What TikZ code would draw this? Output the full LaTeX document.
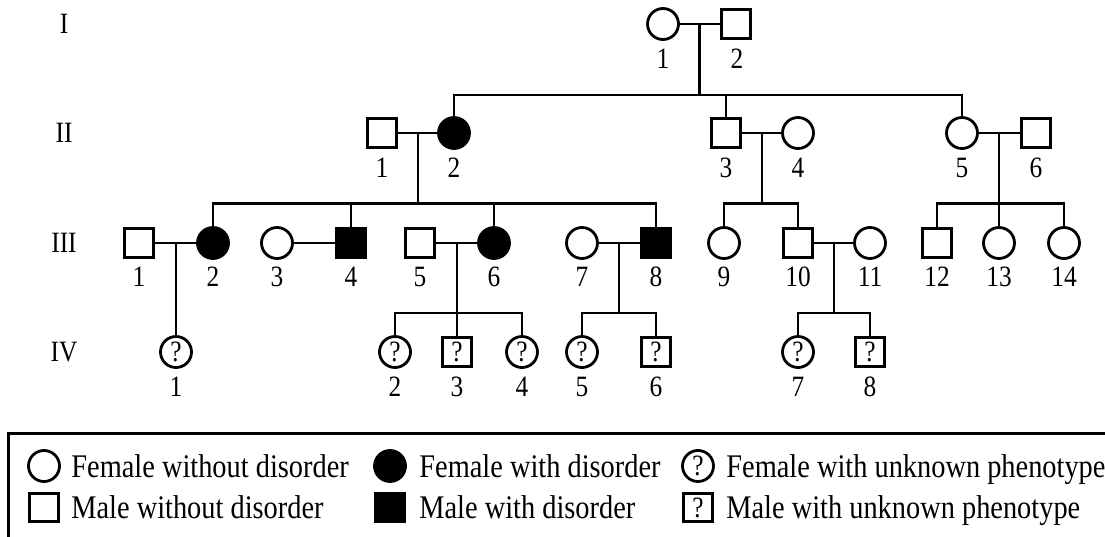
\documentclass[tikz,border=0pt]{standalone}
\usepackage{fontspec}
\setmainfont{Liberation Serif}[FakeStretch=0.86]
\usetikzlibrary{calc}
\newcommand\lblfont{\fontsize{29.5}{30}\selectfont}
\newcommand\legfont{\fontsize{33}{36}\selectfont}
\begin{document}
\begin{tikzpicture}[x=1pt,y=-1pt,line width=2.8pt,line join=miter,
  fem/.style={circle,draw,minimum size=31pt,inner sep=0pt,font=\lblfont},
  mal/.style={rectangle,draw,minimum size=28.5pt,inner sep=0pt,font=\lblfont},
  aff/.style={fill=black},
  lbl/.style={font=\lblfont,inner sep=0pt},
  gen/.style={font=\lblfont,inner sep=0pt},
  legtxt/.style={font=\legfont,anchor=base west,inner sep=0pt},
  frame/.style={line width=3pt}]
\useasboundingbox (0,0) rectangle (1105,537);

% generation numerals
\node[gen] (gI) at (64,24) {I};
\node[gen] (gII) at (64,133) {II};
\node[gen] (gIII) at (64,243) {III};
\node[gen] (gIV) at (64,352) {IV};

% generation I
\node[fem] (I1) at (663,24) {};   \node[lbl] (I1l) at (663,59) {1};
\node[mal] (I2) at (736,24) {};   \node[lbl] (I2l) at (737,59) {2};

% generation II
\node[mal] (II1) at (382,133) {};      \node[lbl] (II1l) at (382,168) {1};
\node[fem,aff] (II2) at (454,133) {};  \node[lbl] (II2l) at (454,168) {2};
\node[mal] (II3) at (726,133) {};      \node[lbl] (II3l) at (726,168) {3};
\node[fem] (II4) at (798,133) {};      \node[lbl] (II4l) at (798,168) {4};
\node[fem] (II5) at (962,133) {};      \node[lbl] (II5l) at (962,168) {5};
\node[mal] (II6) at (1036,133) {};     \node[lbl] (II6l) at (1036,168) {6};

% generation III
\node[mal] (III1) at (139,243) {};      \node[lbl] (III1l) at (139,277) {1};
\node[fem,aff] (III2) at (213,243) {};  \node[lbl] (III2l) at (213,277) {2};
\node[fem] (III3) at (277,243) {};      \node[lbl] (III3l) at (277,277) {3};
\node[mal,aff] (III4) at (351,243) {};  \node[lbl] (III4l) at (351,277) {4};
\node[mal] (III5) at (420,243) {};      \node[lbl] (III5l) at (420,277) {5};
\node[fem,aff] (III6) at (494,243) {};  \node[lbl] (III6l) at (494,277) {6};
\node[fem] (III7) at (582,243) {};      \node[lbl] (III7l) at (582,277) {7};
\node[mal,aff] (III8) at (656,243) {};  \node[lbl] (III8l) at (656,277) {8};
\node[fem] (III9) at (724,243) {};      \node[lbl] (III9l) at (724,277) {9};
\node[mal] (III10) at (798,243) {};     \node[lbl] (III10l) at (798,277) {10};
\node[fem] (III11) at (870,243) {};     \node[lbl] (III11l) at (870,277) {11};
\node[mal] (III12) at (937,243) {};     \node[lbl] (III12l) at (937,277) {12};
\node[fem] (III13) at (999,243) {};     \node[lbl] (III13l) at (999,277) {13};
\node[fem] (III14) at (1064,243) {};    \node[lbl] (III14l) at (1064,277) {14};

% generation IV
\node[fem] (IV1) at (176,352) {?};  \node[lbl] (IV1l) at (176,387) {1};
\node[fem] (IV2) at (395,352) {?};  \node[lbl] (IV2l) at (395,387) {2};
\node[mal] (IV3) at (457,352) {?};  \node[lbl] (IV3l) at (457,387) {3};
\node[fem] (IV4) at (522,352) {?};  \node[lbl] (IV4l) at (522,387) {4};
\node[fem] (IV5) at (582,352) {?};  \node[lbl] (IV5l) at (582,387) {5};
\node[mal] (IV6) at (656,352) {?};  \node[lbl] (IV6l) at (656,387) {6};
\node[fem] (IV7) at (798,352) {?};  \node[lbl] (IV7l) at (798,387) {7};
\node[mal] (IV8) at (870,352) {?};  \node[lbl] (IV8l) at (870,387) {8};

% couple I-1 x I-2
\draw (I1) -- (I2);
\coordinate (mI) at ($(I1)!0.5!(I2)$);
\coordinate (sI) at (699.5,95);
\draw (mI) -- (sI);
\draw (II2.north) |- (sI) -| (II5.north);
\draw (II3.north) -- (II3.north |- sI);

% couple II-1 x II-2
\draw (II1) -- (II2);
\coordinate (mII12) at ($(II1)!0.5!(II2)$);
\coordinate (sII12) at (418,203.5);
\draw (mII12) -- (sII12);
\draw (III2.north) |- (sII12) -| (III8.north);
\draw (III4.north) -- (III4.north |- sII12);
\draw (III6.north) -- (III6.north |- sII12);

% couple II-3 x II-4
\draw (II3) -- (II4);
\coordinate (mII34) at ($(II3)!0.5!(II4)$);
\coordinate (sII34) at (762,203.5);
\draw (mII34) -- (sII34);
\draw (III9.north) |- (sII34) -| (III10.north);

% couple II-5 x II-6
\draw (II5) -- (II6);
\coordinate (mII56) at ($(II5)!0.5!(II6)$);
\coordinate (sII56) at (999,203.5);
\draw (mII56) -- (III13.north);
\draw (III12.north) |- (sII56) -| (III14.north);

% couple III-1 x III-2
\draw (III1) -- (III2);
\coordinate (mIII12) at ($(III1)!0.5!(III2)$);
\draw (mIII12) -- (IV1.north);

% couple III-3 x III-4
\draw (III3) -- (III4);

% couple III-5 x III-6
\draw (III5) -- (III6);
\coordinate (mIII56) at ($(III5)!0.5!(III6)$);
\coordinate (sIII56) at (457,313);
\draw (mIII56) -- (IV3.north);
\draw (IV2.north) |- (sIII56) -| (IV4.north);

% couple III-7 x III-8
\draw (III7) -- (III8);
\coordinate (mIII78) at ($(III7)!0.5!(III8)$);
\coordinate (sIII78) at (619,313);
\draw (mIII78) -- (sIII78);
\draw (IV5.north) |- (sIII78) -| (IV6.north);

% couple III-10 x III-11
\draw (III10) -- (III11);
\coordinate (mIII1011) at ($(III10)!0.5!(III11)$);
\coordinate (sIII1011) at (834,313);
\draw (mIII1011) -- (sIII1011);
\draw (IV7.north) |- (sIII1011) -| (IV8.north);

% legend
\draw[frame] (1106,433) -- (8,433) -- (8,538);
\node[fem] (kF) at (44,466) {};
\node[legtxt] (kFt) at (70,477) {Female without disorder};
\node[mal] (kM) at (44,507.5) {};
\node[legtxt] (kMt) at (70,518.5) {Male without disorder};
\node[fem,aff] (kFA) at (390,466) {};
\node[legtxt] (kFAt) at (418,477) {Female with disorder};
\node[mal,aff] (kMA) at (390,507.5) {};
\node[legtxt] (kMAt) at (418,518.5) {Male with disorder};
\node[fem] (kFU) at (698,466) {?};
\node[legtxt] (kFUt) at (725,477) {Female with unknown phenotype};
\node[mal] (kMU) at (698,507.5) {?};
\node[legtxt] (kMUt) at (725,518.5) {Male with unknown phenotype};
\end{tikzpicture}
\end{document}
